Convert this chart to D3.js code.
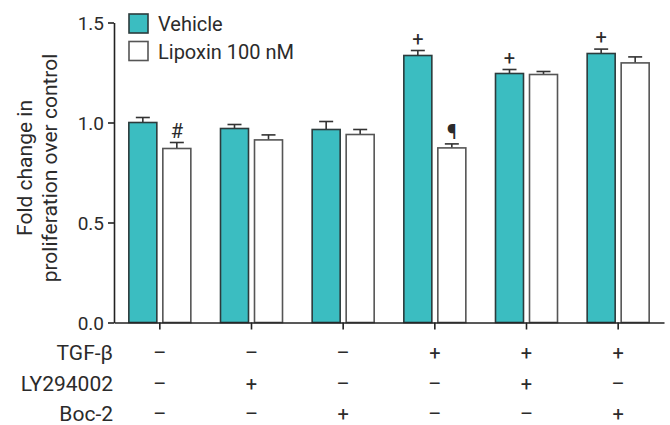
<!DOCTYPE html>
<html>
<head>
<meta charset="utf-8">
<script src="https://cdn.jsdelivr.net/npm/d3@7/dist/d3.min.js"></script>
<style>
  html, body { margin: 0; padding: 0; background: #fff; }
  svg { display: block; font-family: Roboto, "Noto Sans", sans-serif; }
</style>
</head>
<body>
<svg id="chart" width="670" height="425"></svg>
<script>
// ---- data ----
const groups = ["g1", "g2", "g3", "g4", "g5", "g6"];
const seriesNames = ["Vehicle", "Lipoxin 100 nM"];
const vehicleMeans = [1.00, 0.97, 0.965, 1.335, 1.245, 1.345];
const vehicleErr   = [0.025, 0.02, 0.04, 0.025, 0.02, 0.022];
const lipoxinMeans = [0.87, 0.913, 0.94, 0.873, 1.24, 1.298];
const lipoxinErr   = [0.03, 0.025, 0.025, 0.02, 0.015, 0.03];
const vehicleMarks = ["", "", "", "+", "+", "+"];
const lipoxinMarks = ["#", "", "", "¶", "", ""];
const rowLabels = ["TGF-β", "LY294002", "Boc-2"];
const tgfRow = ["–", "–", "–", "+", "+", "+"];
const lyRow  = ["–", "+", "–", "–", "+", "–"];
const bocRow = ["–", "–", "+", "–", "–", "+"];
const yTicks = [0, 0.5, 1.0, 1.5];
const yTitle = ["Fold change in", "proliferation over control"];

// ---- styles ----
const teal = "#3bbdc1";
const textColor = "#2b2b2b";
const svg = d3.select("#chart");

const x0 = d3.scaleBand().domain(groups).range([114, 664])
  .paddingInner(0.3236).paddingOuter(0.1618);
const x1 = d3.scaleBand().domain(seriesNames).range([0, x0.bandwidth()])
  .paddingInner(0.1765).paddingOuter(0);
const y = d3.scaleLinear().domain([0, 1.5]).range([322.5, 22.5]);

const data = groups.map((g, i) => ({
  g,
  vals: [
    { s: seriesNames[0], v: vehicleMeans[i], e: vehicleErr[i], m: vehicleMarks[i] },
    { s: seriesNames[1], v: lipoxinMeans[i], e: lipoxinErr[i], m: lipoxinMarks[i] }
  ]
}));

const fill = d3.scaleOrdinal().domain(seriesNames).range([teal, "#ffffff"]);
const stroke = d3.scaleOrdinal().domain(seriesNames).range(["#2c3b3c", "#555555"]);

const gGroups = svg.selectAll("g.grp").data(data).join("g")
  .attr("class", "grp")
  .attr("transform", d => `translate(${x0(d.g)},0)`);

// error bars (upper only)
gGroups.selectAll("g.err").data(d => d.vals).join("g").attr("class", "err")
  .each(function(d) {
    const cx = x1(d.s) + x1.bandwidth() / 2;
    const g = d3.select(this);
    g.append("line").attr("x1", cx).attr("x2", cx)
      .attr("y1", y(d.v)).attr("y2", y(d.v + d.e))
      .attr("stroke", "#333").attr("stroke-width", 1.6);
    g.append("line").attr("x1", cx - 7).attr("x2", cx + 7)
      .attr("y1", y(d.v + d.e)).attr("y2", y(d.v + d.e))
      .attr("stroke", "#333").attr("stroke-width", 1.6);
    if (d.m) {
      g.append("text").attr("x", cx).attr("y", y(d.v + d.e) - 5)
        .attr("text-anchor", "middle").attr("font-size", 20)
        .attr("fill", textColor).text(d.m);
    }
  });

// bars
gGroups.selectAll("rect.bar").data(d => d.vals).join("rect")
  .attr("class", "bar")
  .attr("x", d => x1(d.s))
  .attr("width", x1.bandwidth())
  .attr("y", d => y(d.v))
  .attr("height", d => y(0) - y(d.v))
  .attr("fill", d => fill(d.s))
  .attr("stroke", d => stroke(d.s))
  .attr("stroke-width", 1.6);

// axes
const yAxis = d3.axisLeft(y).tickValues(yTicks).tickFormat(d3.format(".1f"))
  .tickSize(6).tickSizeOuter(0).tickPadding(4);
const gy = svg.append("g").attr("transform", "translate(114,0)").call(yAxis);
gy.selectAll("text").attr("font-size", 19).attr("fill", textColor)
  .attr("font-family", "Roboto, sans-serif").attr("dy", "0.36em");
gy.selectAll("line, path").attr("stroke", "#222").attr("stroke-width", 1.6);

const xAxis = d3.axisBottom(x0).tickSize(7).tickSizeOuter(0).tickFormat("");
const gx = svg.append("g").attr("transform", `translate(0,${y(0)})`).call(xAxis);
gx.selectAll("line, path").attr("stroke", "#222").attr("stroke-width", 1.6);

// y title
const yt = svg.append("g").attr("transform", "translate(0,168) rotate(-90)");
yTitle.forEach((t, i) => {
  yt.append("text").attr("x", 0).attr("y", 32 + i * 25)
    .attr("text-anchor", "middle").attr("font-size", 21).attr("fill", textColor).text(t);
});

// legend
const legend = svg.append("g").attr("transform", "translate(129,14)");
seriesNames.forEach((s, i) => {
  legend.append("rect").attr("x", 0).attr("y", i * 27.5).attr("width", 19).attr("height", 19)
    .attr("fill", fill(s)).attr("stroke", stroke(s)).attr("stroke-width", 1.6);
  legend.append("text").attr("x", 29).attr("y", i * 27.5 + 17)
    .attr("font-size", 20).attr("fill", textColor).text(s);
});

// condition table
const rows = [tgfRow, lyRow, bocRow];
const rowY = [360, 391, 421];
rows.forEach((row, r) => {
  svg.append("text").attr("x", 113).attr("y", rowY[r]).attr("text-anchor", "end")
    .attr("font-size", 21).attr("fill", textColor).text(rowLabels[r]);
  svg.selectAll(null).data(row).join("text")
    .attr("x", (d, i) => x0(groups[i]) + x0.bandwidth() / 2)
    .attr("y", rowY[r])
    .attr("text-anchor", "middle").attr("font-size", 20).attr("fill", textColor)
    .text(d => d);
});
</script>
</body>
</html>
